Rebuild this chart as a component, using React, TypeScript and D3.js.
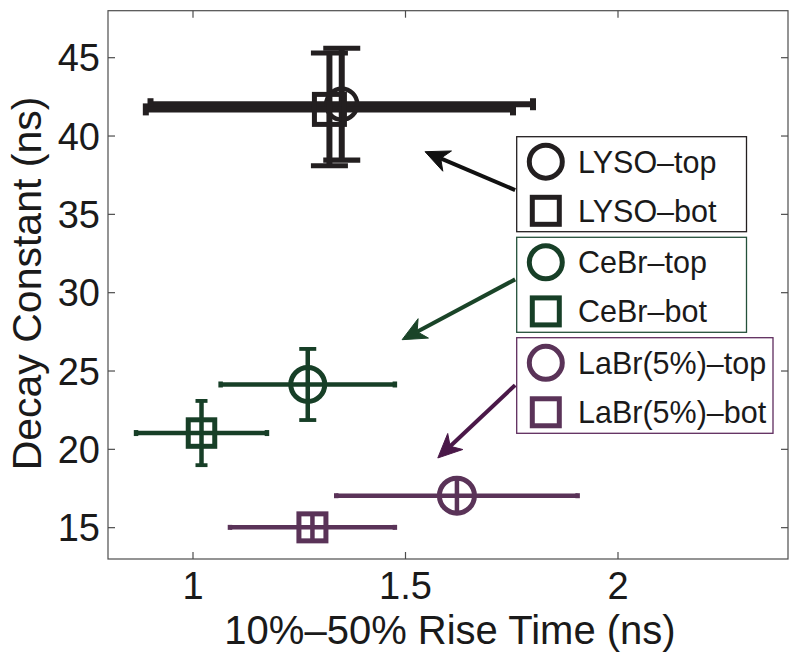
import React from "react";
import * as d3 from "d3";

// ---------- data ----------
const seriesNames = ["LYSO–top", "LYSO–bot", "CeBr–top", "CeBr–bot", "LaBr(5%)–top", "LaBr(5%)–bot"];
const riseTime = [1.350, 1.321, 1.270, 1.020, 1.621, 1.281];
const riseErr = [0.450, 0.432, 0.205, 0.154, 0.284, 0.194];
const decayConst = [42.03, 41.70, 24.14, 21.04, 17.04, 15.02];
const decayErr = [3.57, 3.60, 2.27, 2.05, 1.0, 0.8];

const xTicks = [1, 1.5, 2];
const yTicks = [15, 20, 25, 30, 35, 40, 45];
const xDomain = [0.8, 2.4];
const yDomain = [13, 48];

// annotation arrows (data units): from legend box to data
const arrowFromX = [1.758, 1.758, 1.758];
const arrowFromY = [36.55, 30.85, 24.1];
const arrowToX = [1.546, 1.492, 1.576];
const arrowToY = [39.0, 27.0, 19.45];

// ---------- styles ----------
const COL_LYSO = "#231f20";
const COL_CEBR = "#173f27";
const COL_LABR = "#5a3358";
const arrowColors = ["#111111", "#1a4428", "#4a1848"];
const boxColors = ["#231f20", "#24503a", "#5f2c5e"];

type Style = { color: string; marker: "o" | "s"; size: number; mw: number; lw: number; vCap: number; hCap: number };
const styles: Style[] = [
  { color: COL_LYSO, marker: "o", size: 15.5, mw: 4.5, lw: 6, vCap: 37, hCap: 12 },
  { color: COL_LYSO, marker: "s", size: 30, mw: 5, lw: 6, vCap: 37, hCap: 12 },
  { color: COL_CEBR, marker: "o", size: 17, mw: 5, lw: 4.5, vCap: 17, hCap: 6 },
  { color: COL_CEBR, marker: "s", size: 26.5, mw: 5, lw: 4.5, vCap: 12, hCap: 6 },
  { color: COL_LABR, marker: "o", size: 17.5, mw: 5, lw: 4.5, vCap: 0, hCap: 5 },
  { color: COL_LABR, marker: "s", size: 27, mw: 5, lw: 4.5, vCap: 0, hCap: 5 },
];

const FONT = "'Liberation Sans', Arial, Helvetica, sans-serif";
const W = 800;
const H = 660;
const plot = { left: 108, right: 788, top: 10.7, bottom: 559 };

// legend layout (pixels)
const legendBoxes = [
  { x0: 516.7, x1: 746.5, y0: 136.7, y1: 231.7, items: [0, 1] },
  { x0: 516.7, x1: 746.5, y0: 237.3, y1: 332.3, items: [2, 3] },
  { x0: 516.7, x1: 773, y0: 337.7, y1: 433.3, items: [4, 5] },
];

function Marker({ cx, cy, st, r, side }: { cx: number; cy: number; st: Style; r?: number; side?: number }) {
  if (st.marker === "o") {
    return <circle cx={cx} cy={cy} r={r ?? st.size} fill="none" stroke={st.color} strokeWidth={st.mw} />;
  }
  const s = side ?? st.size;
  return <rect x={cx - s / 2} y={cy - s / 2} width={s} height={s} fill="none" stroke={st.color} strokeWidth={st.mw} />;
}

function Arrow({ x1, y1, x2, y2, color }: { x1: number; y1: number; x2: number; y2: number; color: string }) {
  const ang = Math.atan2(y2 - y1, x2 - x1);
  const L = 24;
  const Wd = 11;
  const notch = 7;
  const ux = Math.cos(ang), uy = Math.sin(ang);
  const px = -uy, py = ux;
  const bx = x2 - ux * L, by = y2 - uy * L;
  const nx = x2 - ux * (L - notch), ny = y2 - uy * (L - notch);
  const head = [
    [x2, y2],
    [bx + px * Wd, by + py * Wd],
    [nx, ny],
    [bx - px * Wd, by - py * Wd],
  ];
  return (
    <g>
      <line x1={x1} y1={y1} x2={nx} y2={ny} stroke={color} strokeWidth={4} />
      <path d={d3.line()(head as [number, number][]) + "Z"} fill={color} stroke={color} strokeWidth={1} strokeLinejoin="miter" />
    </g>
  );
}

export default function App() {
  const x = d3.scaleLinear().domain(xDomain).range([plot.left, plot.right]);
  const y = d3.scaleLinear().domain(yDomain).range([plot.bottom, plot.top]);
  const axisColor = "#4d4d4d";
  const tickLen = 7;

  return (
    <svg width={W} height={H} style={{ display: "block", position: "absolute", left: 0, top: 0, background: "#fff" }} fontFamily={FONT}>
      <rect x={0} y={0} width={W} height={H} fill="#fff" />
      {/* axes frame */}
      <rect x={plot.left} y={plot.top} width={plot.right - plot.left} height={plot.bottom - plot.top} fill="none" stroke={axisColor} strokeWidth={1.2} />
      {xTicks.map((t) => (
        <g key={"xt" + t}>
          <line x1={x(t)} x2={x(t)} y1={plot.bottom} y2={plot.bottom - tickLen} stroke={axisColor} strokeWidth={1.2} />
          <line x1={x(t)} x2={x(t)} y1={plot.top} y2={plot.top + tickLen} stroke={axisColor} strokeWidth={1.2} />
          <text x={x(t)} y={599} fontSize={38} textAnchor="middle" fill="#1a1a1a">{String(t)}</text>
        </g>
      ))}
      {yTicks.map((t) => (
        <g key={"yt" + t}>
          <line x1={plot.left} x2={plot.left + tickLen} y1={y(t)} y2={y(t)} stroke={axisColor} strokeWidth={1.2} />
          <line x1={plot.right} x2={plot.right - tickLen} y1={y(t)} y2={y(t)} stroke={axisColor} strokeWidth={1.2} />
          <text x={100} y={y(t) + 13.6} fontSize={38} textAnchor="end" fill="#1a1a1a">{String(t)}</text>
        </g>
      ))}
      <text x={(plot.left + plot.right) / 2 + 2} y={644} fontSize={40} textAnchor="middle" fill="#1a1a1a">10%–50% Rise Time (ns)</text>
      <text transform={`translate(41,283.5) rotate(-90)`} fontSize={41} textAnchor="middle" fill="#1a1a1a">Decay Constant (ns)</text>

      {/* error bars + markers */}
      {seriesNames.map((n, i) => {
        const st = styles[i];
        const cx = x(riseTime[i]);
        const cy = y(decayConst[i]);
        const xl = x(riseTime[i] - riseErr[i]);
        const xr = x(riseTime[i] + riseErr[i]);
        const yt = y(decayConst[i] + decayErr[i]);
        const yb = y(decayConst[i] - decayErr[i]);
        return (
          <g key={n}>
            <line x1={xl} x2={xr} y1={cy} y2={cy} stroke={st.color} strokeWidth={st.lw} />
            <line x1={cx} x2={cx} y1={yt} y2={yb} stroke={st.color} strokeWidth={st.lw} />
            {st.hCap > 0 && (
              <>
                <line x1={xl} x2={xl} y1={cy - st.hCap / 2} y2={cy + st.hCap / 2} stroke={st.color} strokeWidth={st.lw} />
                <line x1={xr} x2={xr} y1={cy - st.hCap / 2} y2={cy + st.hCap / 2} stroke={st.color} strokeWidth={st.lw} />
              </>
            )}
            {st.vCap > 0 && (
              <>
                <line x1={cx - st.vCap / 2} x2={cx + st.vCap / 2} y1={yt} y2={yt} stroke={st.color} strokeWidth={st.lw * 0.85} />
                <line x1={cx - st.vCap / 2} x2={cx + st.vCap / 2} y1={yb} y2={yb} stroke={st.color} strokeWidth={st.lw * 0.85} />
              </>
            )}
            <Marker cx={cx} cy={cy} st={st} />
          </g>
        );
      })}

      {/* arrows */}
      {arrowFromX.map((_, k) => (
        <Arrow key={"ar" + k} x1={x(arrowFromX[k])} y1={y(arrowFromY[k])} x2={x(arrowToX[k])} y2={y(arrowToY[k])} color={arrowColors[k]} />
      ))}

      {/* legends */}
      {legendBoxes.map((b, k) => {
        const h = b.y1 - b.y0;
        return (
          <g key={"lg" + k}>
            <rect x={b.x0} y={b.y0} width={b.x1 - b.x0} height={h} fill="#fff" stroke={boxColors[k]} strokeWidth={1.3} />
            {b.items.map((si, j) => {
              const cy = b.y0 + h * (j === 0 ? 0.263 : 0.78);
              const st = styles[si];
              return (
                <g key={"li" + si}>
                  <Marker cx={545.8} cy={cy} st={{ ...st, mw: 5 }} r={16.5} side={27} />
                  <text x={578} y={cy + 11} fontSize={30.5} fill="#1a1a1a">{seriesNames[si]}</text>
                </g>
              );
            })}
          </g>
        );
      })}
    </svg>
  );
}
